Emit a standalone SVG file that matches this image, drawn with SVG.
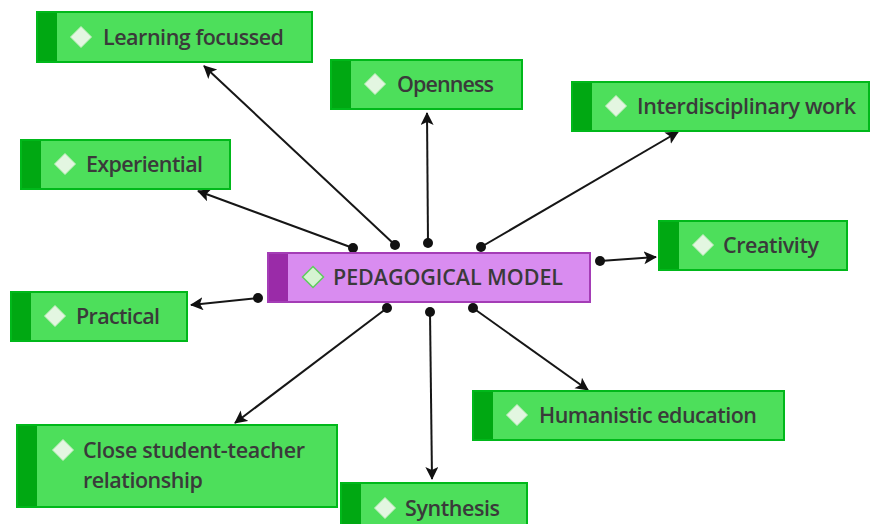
<svg xmlns="http://www.w3.org/2000/svg" width="871" height="524" viewBox="0 0 871 524">
  <defs>
    <style>
      .box { fill: #4ddf5b; stroke: #00b81a; stroke-width: 2; }
      .strip { fill: #00a812; }
      .core { fill: #d98cf0; stroke: #a43db6; stroke-width: 2; }
      .core-strip { fill: #9a2ba8; }
      .dia { fill: #e3f6e1; stroke: #c2ecbe; stroke-width: 1; }
      .core-dia { fill: #d6f3d2; stroke: #5fcc5e; stroke-width: 1.5; }
      .label { font-family: "Open Sans", "Noto Sans", "Liberation Sans", sans-serif; font-size: 21.5px; font-weight: 600; fill: #3a3a3a; }
      .link { stroke: #161616; stroke-width: 2; fill: none; marker-end: url(#arrow); }
      .dot { fill: #111111; }
    </style>
    <marker id="arrow" markerUnits="userSpaceOnUse" markerWidth="14" markerHeight="14" refX="12" refY="6.5" orient="auto">
      <path d="M0,0 L13,6.5 L0,13 L3,6.5 z" fill="#111111"/>
    </marker>
    <path id="diamond" d="M0,-10.5 L10.5,0 L0,10.5 L-10.5,0 z"/>
  </defs>

  <!-- connectors: each runs from a dot on the central box to an arrowhead at a topic box -->
  <g id="connectors">
    <line class="link" x1="395" y1="245" x2="204" y2="66"/>
    <line class="link" x1="428" y1="243" x2="427" y2="113"/>
    <line class="link" x1="481" y1="247" x2="678" y2="132"/>
    <line class="link" x1="353" y1="248" x2="198" y2="191"/>
    <line class="link" x1="600" y1="261" x2="656" y2="257"/>
    <line class="link" x1="258" y1="298" x2="191" y2="305"/>
    <line class="link" x1="387" y1="308" x2="235" y2="423"/>
    <line class="link" x1="430" y1="312" x2="432" y2="479"/>
    <line class="link" x1="473" y1="308" x2="588" y2="390"/>
    <circle class="dot" cx="395" cy="245" r="5"/>
    <circle class="dot" cx="428" cy="243" r="5"/>
    <circle class="dot" cx="481" cy="247" r="5"/>
    <circle class="dot" cx="353" cy="248" r="5"/>
    <circle class="dot" cx="600" cy="261" r="5"/>
    <circle class="dot" cx="258" cy="298" r="5"/>
    <circle class="dot" cx="387" cy="308" r="5"/>
    <circle class="dot" cx="430" cy="312" r="5"/>
    <circle class="dot" cx="473" cy="308" r="5"/>
  </g>

  <g id="node-learning">
    <rect class="box" x="37" y="12" width="275" height="50"/>
    <rect class="strip" x="38" y="13" width="19" height="48"/>
    <use href="#diamond" class="dia" x="81" y="37"/>
    <text class="label" x="103" y="45" textLength="181" lengthAdjust="spacing">Learning focussed</text>
  </g>

  <g id="node-openness">
    <rect class="box" x="331" y="60" width="191" height="49"/>
    <rect class="strip" x="332" y="61" width="19" height="47"/>
    <use href="#diamond" class="dia" x="375" y="84"/>
    <text class="label" x="397" y="92" textLength="97" lengthAdjust="spacing">Openness</text>
  </g>

  <g id="node-interdisciplinary">
    <rect class="box" x="572" y="82" width="297" height="49"/>
    <rect class="strip" x="573" y="83" width="19" height="47"/>
    <use href="#diamond" class="dia" x="616" y="106"/>
    <text class="label" x="637" y="114" textLength="219" lengthAdjust="spacing">Interdisciplinary work</text>
  </g>

  <g id="node-experiential">
    <rect class="box" x="21" y="140" width="209" height="49"/>
    <rect class="strip" x="22" y="141" width="19" height="47"/>
    <use href="#diamond" class="dia" x="65" y="164"/>
    <text class="label" x="86" y="172" textLength="117" lengthAdjust="spacing">Experiential</text>
  </g>

  <g id="node-creativity">
    <rect class="box" x="659" y="221" width="188" height="49"/>
    <rect class="strip" x="660" y="222" width="19" height="47"/>
    <use href="#diamond" class="dia" x="703" y="245"/>
    <text class="label" x="723" y="253" textLength="96" lengthAdjust="spacing">Creativity</text>
  </g>

  <g id="node-pedagogical-model">
    <rect class="core" x="268" y="253" width="322" height="49"/>
    <rect class="core-strip" x="269" y="254" width="19" height="47"/>
    <use href="#diamond" class="core-dia" x="313" y="277"/>
    <text class="label" x="333" y="285" textLength="230" lengthAdjust="spacing">PEDAGOGICAL MODEL</text>
  </g>

  <g id="node-practical">
    <rect class="box" x="11" y="292" width="176" height="49"/>
    <rect class="strip" x="12" y="293" width="19" height="47"/>
    <use href="#diamond" class="dia" x="55" y="316"/>
    <text class="label" x="76" y="324" textLength="84" lengthAdjust="spacing">Practical</text>
  </g>

  <g id="node-humanistic">
    <rect class="box" x="473" y="391" width="311" height="49"/>
    <rect class="strip" x="474" y="392" width="19" height="47"/>
    <use href="#diamond" class="dia" x="517" y="415"/>
    <text class="label" x="539" y="423" textLength="218" lengthAdjust="spacing">Humanistic education</text>
  </g>

  <g id="node-close-relationship">
    <rect class="box" x="17" y="425" width="320" height="82"/>
    <rect class="strip" x="18" y="426" width="19" height="80"/>
    <use href="#diamond" class="dia" x="63" y="450"/>
    <text class="label" x="83" y="458" textLength="222" lengthAdjust="spacing">Close student-teacher</text>
    <text class="label" x="83" y="488" textLength="120" lengthAdjust="spacing">relationship</text>
  </g>

  <g id="node-synthesis">
    <rect class="box" x="341" y="483" width="186" height="60"/>
    <rect class="strip" x="342" y="484" width="19" height="58"/>
    <use href="#diamond" class="dia" x="385" y="508"/>
    <text class="label" x="405" y="516" textLength="95" lengthAdjust="spacing">Synthesis</text>
  </g>
</svg>
